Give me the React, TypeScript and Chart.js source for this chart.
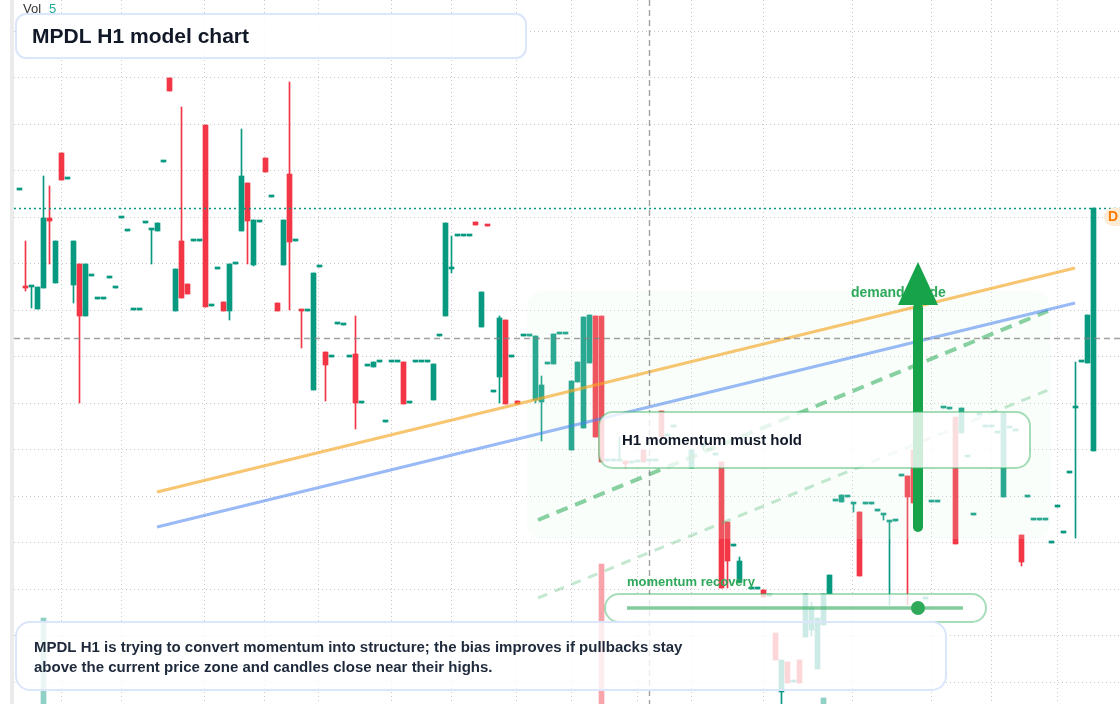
import React, { useEffect, useRef } from 'react';
import { Chart, registerables } from 'chart.js';

Chart.register(...registerables);

// ---- candle data (index = bar number, null = no print) ----
const opens = [
  51.4, 41.7, 41.7, 39.5, 41.6, 48.6, 42.1, 55.1, 52.5, 41.9,
  44.0, 38.8, 42.8, 40.5, 40.5, 42.6, 41.6, 48.6, 47.3, 39.4,
  39.4, 48.1, 47.4, 47.3, 54.2, 62.6, 39.3, 46.3, 42.0, 46.3,
  46.3, 57.9, 39.8, 43.5, 40.2, 39.3, 44.0, 47.3, 52.1, 43.9,
  48.2, 54.6, 50.7, 40.1, 43.9, 53.0, 46.3, 39.4, 39.3, 31.4,
  43.7, 35.2, 34.7, 38.0, 37.9, 34.7, 35.0, 30.1, 33.8, 33.7,
  34.2, 28.2, 34.2, 34.2, 34.2, 30.1, 34.2, 34.2, 34.2, 30.4,
  36.8, 38.8, 43.5, 46.8, 46.8, 46.8, 48.2, 37.7, 47.9, 31.2,
  32.7, 38.4, 34.7, 30.3, 36.8, 36.8, 30.4, 30.2, 34.0, 34.0,
  37.0, 37.0, 25.4, 32.2, 27.6, 34.1, 38.8, 38.8, 24.3, 24.3,
  24.3, 24.3, 24.1, 24.2, 25.4, 24.3, 24.3, 29.3, 26.8, 27.7,
  null, null, 23.6, null, 25.8, 25.4, 24.9, 24.2, 18.2, 15.8,
  12.2, null, 11.5, 11.5, 11.4, 10.8, 7.1, 1.2, 4.2, 2.2,
  4.4, 6.7, 7.4, 3.5, 7.9, 11.0, 20.3, 20.2, 20.7, 20.0,
  19.2, 20.0, 20.0, 19.3, 18.9, 18.2, 18.3, 22.8, 22.8, 25.4,
  null, 10.5, 20.2, 20.2, 29.6, 29.5, 28.7, 27.1, 24.7, 18.9,
  28.9, 27.7, 27.7, 27.1, 20.7, 27.6, 27.3, 16.9, 20.7, 18.4,
  18.4, 18.4, 16.1, 19.7, 17.1, 23.1, 29.6, 34.2, 34.1, 25.3,
];
const highs = [
  51.4, 46.3, 41.7, 41.7, 52.8, 51.8, 46.3, 55.1, 52.5, 46.3,
  44.0, 44.0, 42.8, 40.5, 40.5, 42.6, 41.6, 48.6, 47.3, 39.4,
  39.4, 48.1, 47.4, 48.1, 54.2, 62.6, 43.5, 59.7, 42.0, 46.3,
  46.3, 57.9, 39.8, 43.5, 40.2, 44.0, 44.0, 57.5, 52.1, 48.4,
  48.2, 54.6, 50.7, 40.1, 48.4, 62.2, 46.3, 39.4, 39.3, 43.1,
  43.7, 35.2, 34.7, 38.0, 37.9, 34.7, 38.8, 30.1, 33.8, 34.2,
  34.2, 28.2, 34.2, 34.2, 34.2, 30.1, 34.2, 34.2, 34.2, 34.0,
  36.8, 48.1, 46.8, 46.8, 46.8, 46.8, 48.2, 41.2, 47.9, 31.2,
  38.8, 38.4, 34.7, 30.3, 36.8, 36.8, 36.8, 32.8, 34.0, 37.0,
  37.0, 37.0, 32.3, 34.2, 38.7, 38.9, 38.8, 38.8, 24.3, 24.3,
  26.7, 24.3, 24.1, 24.2, 25.4, 24.3, 24.3, 29.3, 26.8, 27.7,
  null, null, 25.4, null, 25.8, 25.4, 24.9, 24.2, 18.2, 15.8,
  14.7, null, 11.5, 11.5, 11.4, 10.8, 7.1, 4.4, 4.2, 2.2,
  4.4, 11.0, 10.2, 8.6, 11.0, 12.9, 20.3, 20.9, 20.7, 20.0,
  19.2, 20.0, 20.0, 19.3, 18.9, 18.2, 18.3, 22.8, 22.8, 25.4,
  null, 10.5, 20.2, 20.2, 29.6, 29.5, 28.7, 29.6, 24.7, 18.9,
  28.9, 27.7, 27.7, 27.1, 29.1, 27.6, 27.3, 16.9, 20.7, 18.4,
  18.4, 18.4, 16.1, 19.7, 17.1, 23.1, 34.2, 34.2, 38.9, 49.6,
];
const lows = [
  51.4, 41.3, 39.6, 39.5, 41.6, 44.0, 42.1, 52.4, 52.5, 40.1,
  30.1, 38.8, 42.8, 40.5, 40.5, 42.6, 41.6, 48.6, 47.3, 39.4,
  39.4, 48.1, 44.0, 47.3, 54.2, 61.3, 39.3, 40.6, 41.0, 46.3,
  46.3, 39.7, 39.8, 43.5, 39.3, 38.4, 44.0, 47.3, 44.0, 43.8,
  48.2, 53.2, 50.7, 39.3, 43.9, 39.4, 46.3, 35.6, 39.3, 31.4,
  43.7, 30.3, 34.7, 38.0, 37.9, 34.7, 27.5, 30.1, 33.8, 33.7,
  34.2, 28.2, 34.2, 34.2, 30.0, 30.1, 34.2, 34.2, 34.2, 30.4,
  36.8, 38.8, 43.1, 46.8, 46.8, 46.8, 47.9, 37.7, 47.8, 31.2,
  30.1, 30.0, 34.7, 30.0, 36.8, 36.8, 30.1, 26.3, 34.0, 34.0,
  37.0, 37.0, 25.4, 32.2, 27.6, 34.1, 26.7, 24.2, 24.3, 24.3,
  24.3, 23.6, 24.1, 24.2, 24.2, 24.3, 24.3, 26.7, 26.8, 27.7,
  null, null, 23.6, null, 25.4, 25.4, 24.9, 11.6, 11.6, 15.8,
  12.2, null, 11.5, 11.5, 10.7, 10.8, 4.4, 0.0, 2.1, 2.2,
  2.1, 6.7, 6.8, 3.5, 7.9, 11.0, 20.3, 20.2, 20.7, 19.2,
  12.8, 20.0, 20.0, 19.3, 18.4, 9.9, 18.3, 22.8, 9.9, 20.1,
  null, 10.5, 20.2, 20.2, 29.6, 29.5, 16.0, 27.1, 24.7, 18.9,
  28.9, 27.7, 27.7, 27.1, 20.7, 27.6, 27.3, 13.8, 20.7, 18.4,
  18.4, 18.4, 16.1, 19.7, 17.1, 23.1, 16.6, 34.2, 34.1, 25.3,
];
const closes = [
  51.4, 41.6, 41.7, 41.7, 48.6, 48.3, 46.3, 52.4, 52.5, 46.3,
  38.8, 44.0, 42.8, 40.5, 40.5, 42.6, 41.6, 48.6, 47.3, 39.4,
  39.4, 48.1, 47.4, 48.1, 54.2, 61.3, 43.5, 40.6, 41.0, 46.3,
  46.3, 39.7, 39.8, 43.5, 39.3, 44.0, 44.0, 52.8, 48.3, 48.4,
  48.2, 53.2, 50.7, 39.3, 48.4, 46.2, 46.3, 39.3, 39.3, 43.1,
  43.7, 33.9, 34.7, 38.0, 37.9, 34.7, 30.1, 30.1, 33.8, 34.2,
  34.2, 28.2, 34.2, 34.2, 30.0, 30.1, 34.2, 34.2, 34.2, 34.0,
  36.8, 48.1, 43.5, 46.8, 46.8, 46.8, 47.9, 41.2, 47.8, 31.2,
  38.6, 30.0, 34.7, 30.0, 36.8, 36.8, 36.8, 31.9, 34.0, 37.0,
  37.0, 37.0, 32.3, 34.2, 38.7, 38.9, 26.7, 24.2, 24.3, 24.3,
  24.3, 24.0, 24.1, 24.2, 24.2, 24.3, 24.3, 26.7, 26.8, 27.7,
  null, null, 25.4, null, 25.8, 25.4, 24.9, 11.6, 14.3, 15.8,
  14.3, null, 11.5, 11.5, 10.7, 10.8, 4.4, 4.4, 2.1, 2.2,
  2.1, 11.0, 9.6, 8.6, 11.0, 12.9, 20.3, 20.9, 20.7, 20.0,
  12.8, 20.0, 20.0, 19.3, 18.9, 18.2, 18.3, 22.8, 20.7, 20.1,
  null, 10.5, 20.2, 20.2, 29.6, 29.5, 16.0, 29.6, 24.7, 18.9,
  28.9, 27.7, 27.7, 27.1, 29.1, 27.6, 27.3, 14.2, 20.7, 18.4,
  18.4, 18.4, 16.1, 19.7, 17.1, 23.1, 29.6, 34.2, 38.9, 49.6,
];
// volume prints: [bar index, volume]
const volumeBars = [[4, 860], [97, 1400], [134, 60]];

// grid positions (bar index / price)
const xGridTicks = [7.08, 17.08, 30.9, 40.9, 49.9, 62.08, 72.08, 82.9, 92.08, 103.08, 112.08, 124.08, 138.9, 152.08, 162.08, 173.08];
const yGridTicks = [2.2, 6.85, 11.5, 16.15, 20.8, 25.45, 30.1, 34.75, 39.4, 44.05, 48.7, 53.35, 58.0, 62.65, 67.3];

// trend lines [bar index, price]
const orangeTrend = [[22.92, 21.2], [175.92, 43.6]];
const blueTrend = [[22.92, 17.7], [175.92, 40.1]];
const greenDashTrend = [[86.42, 18.4], [171.42, 39.3]];
const greenFaintTrend = [[86.42, 10.6], [171.42, 31.4]];
const demandZone = { x0: 84.58, x1: 171.75, yTop: 41.3, yBottom: 16.5 };
const arrowFrom = { x: 149.75, y: 17.7 };
const arrowTo = { x: 149.75, y: 44.2 };
const crosshair = { x: 104.92, y: 36.6 };
const lastPrice = closes[closes.length - 1];

const X_MIN = -0.9167;
const X_MAX = 183.4167;
const Y_MIN = 0;
const Y_MAX = 70.4;

const UP = '#089981';
const DOWN = '#f23645';
const FONT = '"Liberation Sans", Arial, Helvetica, sans-serif';

function roundRect(ctx, x, y, w, h, r) {
  ctx.beginPath();
  ctx.moveTo(x + r, y);
  ctx.lineTo(x + w - r, y);
  ctx.arcTo(x + w, y, x + w, y + r, r);
  ctx.lineTo(x + w, y + h - r);
  ctx.arcTo(x + w, y + h, x + w - r, y + h, r);
  ctx.lineTo(x + r, y + h);
  ctx.arcTo(x, y + h, x, y + h - r, r);
  ctx.lineTo(x, y + r);
  ctx.arcTo(x, y, x + r, y, r);
  ctx.closePath();
}

function box(ctx, x, y, w, h, r, fill, stroke, lw) {
  ctx.save();
  roundRect(ctx, x, y, w, h, r);
  ctx.fillStyle = fill;
  ctx.fill();
  ctx.strokeStyle = stroke;
  ctx.lineWidth = lw;
  ctx.stroke();
  ctx.restore();
}

const overlayPlugin = {
  id: 'overlayPlugin',
  beforeDraw(chart) {
    const { ctx } = chart;
    ctx.save();
    ctx.fillStyle = '#ffffff';
    ctx.fillRect(0, 0, chart.width, chart.height);
    ctx.fillStyle = '#ebebeb';
    ctx.fillRect(10, 0, 4, chart.height);
    ctx.restore();
  },
  afterDatasetDraw(chart, args) {
    if (args.index !== 2) return;
    const { ctx } = chart;
    const xs = chart.scales.x;
    const ys = chart.scales.y;
    const x0 = xs.getPixelForValue(demandZone.x0);
    const x1 = xs.getPixelForValue(demandZone.x1);
    const y0 = ys.getPixelForValue(demandZone.yTop);
    const y1 = ys.getPixelForValue(demandZone.yBottom);
    ctx.save();
    roundRect(ctx, x0, y0, x1 - x0, y1 - y0, 16);
    ctx.fillStyle = 'rgba(222,250,232,0.16)';
    ctx.fill();
    ctx.restore();
  },
  afterDatasetsDraw(chart) {
    const { ctx, chartArea } = chart;
    const xs = chart.scales.x;
    const ys = chart.scales.y;

    // crosshair
    ctx.save();
    ctx.strokeStyle = 'rgba(130,130,130,0.75)';
    ctx.lineWidth = 1.4;
    ctx.setLineDash([6, 4]);
    const cx = Math.round(xs.getPixelForValue(crosshair.x)) + 0.5;
    const cy = Math.round(ys.getPixelForValue(crosshair.y)) + 0.5;
    ctx.beginPath();
    ctx.moveTo(cx, chartArea.top);
    ctx.lineTo(cx, chartArea.bottom);
    ctx.moveTo(chartArea.left, cy);
    ctx.lineTo(chartArea.right, cy);
    ctx.stroke();
    // last price dotted line
    ctx.strokeStyle = UP;
    ctx.lineWidth = 1.5;
    ctx.setLineDash([2, 3]);
    const ly = Math.round(ys.getPixelForValue(lastPrice)) + 0.5;
    ctx.beginPath();
    ctx.moveTo(chartArea.left, ly);
    ctx.lineTo(chartArea.right, ly);
    ctx.stroke();
    ctx.restore();

    // demand guide label + arrow
    ctx.save();
    ctx.font = `bold 14px ${FONT}`;
    ctx.fillStyle = '#2ea85a';
    ctx.textBaseline = 'middle';
    ctx.fillText('demand guide', 851, 293);
    const ax = xs.getPixelForValue(arrowFrom.x);
    const ay0 = ys.getPixelForValue(arrowFrom.y);
    const ay1 = ys.getPixelForValue(arrowTo.y);
    ctx.strokeStyle = '#16a34a';
    ctx.fillStyle = '#16a34a';
    ctx.lineWidth = 10;
    ctx.lineCap = 'round';
    ctx.beginPath();
    ctx.moveTo(ax, ay0);
    ctx.lineTo(ax, ay1 + 46);
    ctx.stroke();
    ctx.beginPath();
    ctx.moveTo(ax, ay1);
    ctx.lineTo(ax + 20, ay1 + 43);
    ctx.lineTo(ax - 20, ay1 + 43);
    ctx.closePath();
    ctx.fill();
    ctx.restore();

    // boxes
    const white = 'rgba(255,255,255,0.8)';
    const greenBorder = 'rgba(60,180,100,0.45)';
    const blueBorder = '#dbe6fa';
    box(ctx, 599, 412, 431, 56, 14, white, greenBorder, 2);
    box(ctx, 605, 594, 381, 28, 14, white, greenBorder, 2);
    box(ctx, 16, 622, 930, 68, 14, white, blueBorder, 2);
    box(ctx, 16, 14, 510, 44, 10, 'rgba(255,255,255,0.85)', blueBorder, 2);

    ctx.save();
    ctx.textBaseline = 'middle';
    ctx.fillStyle = '#111827';
    ctx.font = `bold 15px ${FONT}`;
    ctx.fillText('H1 momentum must hold', 622, 441);
    ctx.fillStyle = '#1e293b';
    ctx.fillText('MPDL H1 is trying to convert momentum into structure; the bias improves if pullbacks stay', 34, 648);
    ctx.fillText('above the current price zone and candles close near their highs.', 34, 668);
    ctx.fillStyle = '#111827';
    ctx.font = `bold 21px ${FONT}`;
    ctx.fillText('MPDL H1 model chart', 32, 37);

    // momentum recovery slider
    ctx.font = `bold 13px ${FONT}`;
    ctx.fillStyle = '#2ea85a';
    ctx.fillText('momentum recovery', 627, 582);
    ctx.strokeStyle = 'rgba(46,168,90,0.6)';
    ctx.lineWidth = 3.5;
    ctx.beginPath();
    ctx.moveTo(627, 608);
    ctx.lineTo(963, 608);
    ctx.stroke();
    ctx.beginPath();
    ctx.arc(918, 608, 7, 0, Math.PI * 2);
    ctx.fillStyle = '#2eaa5a';
    ctx.fill();

    // volume legend
    ctx.font = `13px ${FONT}`;
    ctx.fillStyle = '#333333';
    ctx.fillText('Vol', 23, 9);
    ctx.fillStyle = '#22ab94';
    ctx.fillText('5', 49, 9);

    // last price badge
    roundRect(ctx, 1104, 208, 30, 18, 9);
    ctx.fillStyle = '#fdebd3';
    ctx.fill();
    ctx.font = `bold 14px ${FONT}`;
    ctx.fillStyle = '#f57c00';
    ctx.fillText('D', 1108, 217.5);
    ctx.restore();
  },
};

export default function App() {
  const canvasRef = useRef(null);

  useEffect(() => {
    const bodyData = [];
    const wickData = [];
    const colors = [];
    opens.forEach((o, i) => {
      if (o === null) return;
      const c = closes[i];
      bodyData.push({ x: i, y: [o, c] });
      wickData.push({ x: i, y: [lows[i], highs[i]] });
      colors.push(c >= o ? UP : DOWN);
    });
    const volData = volumeBars.map(([i, v]) => ({ x: i, y: v }));
    const volColors = volumeBars.map(([i]) =>
      closes[i] >= opens[i] ? 'rgba(8,153,129,0.45)' : 'rgba(242,54,69,0.45)'
    );
    const toPts = (arr) => arr.map(([x, y]) => ({ x, y }));

    const gridCfg = { color: '#c9c9c9', lineWidth: 1, drawTicks: false, offset: false };
    const borderCfg = { display: false, dash: [1, 3] };

    const chart = new Chart(canvasRef.current, {
      type: 'bar',
      data: {
        datasets: [
          {
            type: 'bar',
            label: 'Volume',
            data: volData,
            yAxisID: 'yVol',
            backgroundColor: volColors,
            barThickness: 5,
            grouped: false,
            borderWidth: 0,
            order: 10,
          },
          {
            type: 'bar',
            label: 'Wicks',
            data: wickData,
            backgroundColor: colors,
            barThickness: 1,
            grouped: false,
            borderWidth: 0,
            order: 9,
          },
          {
            type: 'bar',
            label: 'Bodies',
            data: bodyData,
            backgroundColor: colors,
            barThickness: 5,
            minBarLength: 2,
            grouped: false,
            borderWidth: 0,
            order: 8,
          },
          {
            type: 'line',
            label: 'faint guide',
            data: toPts(greenFaintTrend),
            borderColor: 'rgba(60,180,100,0.3)',
            borderWidth: 3,
            borderDash: [10, 8],
            pointRadius: 0,
            fill: false,
            order: 4,
          },
          {
            type: 'line',
            label: 'green guide',
            data: toPts(greenDashTrend),
            borderColor: 'rgba(40,170,85,0.55)',
            borderWidth: 4,
            borderDash: [12, 8],
            pointRadius: 0,
            fill: false,
            order: 3,
          },
          {
            type: 'line',
            label: 'blue trend',
            data: toPts(blueTrend),
            borderColor: 'rgba(70,130,240,0.55)',
            borderWidth: 3,
            pointRadius: 0,
            fill: false,
            order: 2,
          },
          {
            type: 'line',
            label: 'orange trend',
            data: toPts(orangeTrend),
            borderColor: 'rgba(245,166,35,0.65)',
            borderWidth: 3,
            pointRadius: 0,
            fill: false,
            order: 1,
          },
        ],
      },
      options: {
        responsive: false,
        animation: false,
        events: [],
        layout: { padding: { left: 14, right: 0, top: 0, bottom: 0 } },
        plugins: { legend: { display: false }, tooltip: { enabled: false } },
        scales: {
          x: {
            type: 'linear',
            min: X_MIN,
            max: X_MAX,
            offset: false,
            grid: gridCfg,
            border: borderCfg,
            ticks: { display: false },
            afterBuildTicks: (s) => {
              s.ticks = xGridTicks.map((v) => ({ value: v }));
            },
          },
          y: {
            type: 'linear',
            min: Y_MIN,
            max: Y_MAX,
            grid: gridCfg,
            border: borderCfg,
            ticks: { display: false },
            afterBuildTicks: (s) => {
              s.ticks = yGridTicks.map((v) => ({ value: v }));
            },
          },
          yVol: { type: 'linear', display: false, min: 0, max: 7040 },
        },
      },
      plugins: [overlayPlugin],
    });
    return () => chart.destroy();
  }, []);

  return (
    <div style={{ position: 'fixed', left: 0, top: 0, width: 1120, height: 704, background: '#fff' }}>
      <canvas ref={canvasRef} width={1120} height={704} style={{ display: 'block', width: 1120, height: 704 }} />
    </div>
  );
}
